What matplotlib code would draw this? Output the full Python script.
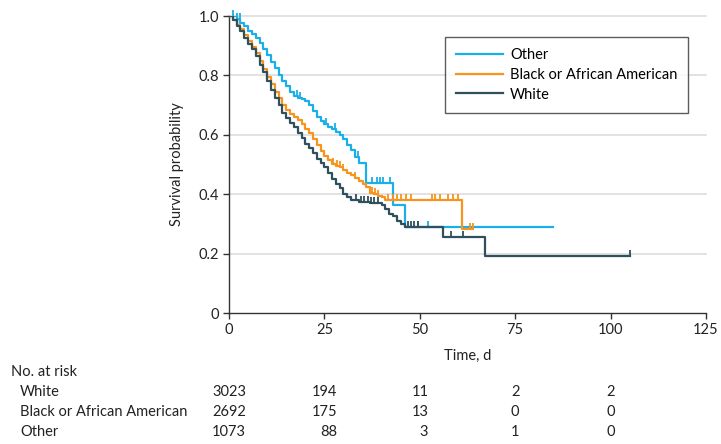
import numpy as np
import matplotlib
matplotlib.use("Agg")
import matplotlib.pyplot as plt
from matplotlib.path import Path
from matplotlib.transforms import blended_transform_factory

plt.rcParams['font.family'] = ['Lato', 'DejaVu Sans']
FS = 10.5

# Kaplan-Meier step points (time in days, survival)
white_t = [0, 1, 2, 3, 4, 5, 6, 7, 8, 9, 10, 11, 12, 13, 14, 15, 16, 17, 18, 19, 20,
           21, 22, 23, 24, 25, 26, 27, 28, 29, 30, 31, 32, 34, 37, 40, 41, 42, 43, 44,
           45, 46, 56, 67, 105]
white_s = [1.0, 0.985, 0.965, 0.95, 0.925, 0.905, 0.89, 0.865, 0.835, 0.81, 0.78, 0.75,
           0.725, 0.70, 0.675, 0.655, 0.64, 0.625, 0.605, 0.59, 0.57, 0.555, 0.54, 0.52,
           0.505, 0.49, 0.47, 0.45, 0.435, 0.42, 0.40, 0.39, 0.38, 0.375, 0.37, 0.365,
           0.35, 0.335, 0.325, 0.31, 0.30, 0.29, 0.257, 0.192, 0.192]
white_cens = [33.4, 34.7, 35.5, 36.4, 37.3, 38.1, 39, 46.9, 47.8, 48.6, 49.5, 58.1, 61.2, 105]

black_t = [0, 1, 2, 3, 4, 5, 6, 7, 8, 9, 10, 11, 12, 13, 14, 15, 16, 17, 18, 19, 20,
           21, 22, 23, 24, 25, 26, 27, 28, 29, 30, 31, 32, 33, 34, 35, 36, 37, 38, 39,
           40, 41, 61, 64]
black_s = [1.0, 0.985, 0.97, 0.955, 0.935, 0.915, 0.895, 0.875, 0.85, 0.82, 0.795, 0.77,
           0.745, 0.725, 0.70, 0.685, 0.67, 0.66, 0.65, 0.635, 0.62, 0.605, 0.585, 0.565,
           0.545, 0.53, 0.515, 0.50, 0.495, 0.49, 0.48, 0.47, 0.465, 0.455, 0.445, 0.435,
           0.425, 0.405, 0.40, 0.395, 0.39, 0.38, 0.283, 0.283]
black_cens = [27.3, 28.3, 29.2, 30, 33, 37.4, 38.3, 39, 41.7, 43, 44, 45, 46.5, 47.7,
              53.2, 54, 55.3, 57.4, 58.7, 60, 63.2, 64]

other_t = [0, 2, 3, 4, 5, 6, 7, 8, 9, 10, 11, 12, 13, 14, 15, 16, 17, 18, 19, 20, 21,
           22, 23, 24, 25, 26, 27, 28, 29, 30, 31, 32, 33, 34, 36, 43, 46, 85]
other_s = [1.0, 0.99, 0.975, 0.965, 0.95, 0.94, 0.925, 0.91, 0.89, 0.87, 0.845, 0.825,
           0.80, 0.78, 0.765, 0.745, 0.73, 0.725, 0.72, 0.715, 0.70, 0.68, 0.66, 0.645,
           0.635, 0.625, 0.62, 0.61, 0.60, 0.585, 0.565, 0.55, 0.525, 0.505, 0.437,
           0.364, 0.29, 0.29]
other_cens = [1.1, 2.1, 2.9, 17.7, 18.6, 23, 25.5, 27.7, 33.9, 37.4, 38.7, 39.6, 40.4,
              42.2, 49.5, 52.2]

# number at risk table
risk_times = [0, 25, 50, 75, 100]
risk_white = [3023, 194, 11, 2, 2]
risk_black = [2692, 175, 13, 0, 0]
risk_other = [1073, 88, 3, 1, 0]

c_other = '#1AAFE6'
c_black = '#F7941D'
c_white = '#2F505C'
txt = '#222222'

fig = plt.figure(figsize=(7.21, 4.44), dpi=100)
ax = fig.add_axes([229 / 721, 1 - 313 / 444, 477 / 721, 297 / 444])

tick_up = Path([(0, 0), (0, 1)], [Path.MOVETO, Path.LINETO])


def km(t, s, cens, color, label):
    ax.step(t, s, where='post', color=color, lw=1.6, label=label, zorder=3)
    idx = np.searchsorted(t, cens, side='right') - 1
    cs = np.array(s)[idx]
    ax.plot(cens, cs, ls='none', marker=tick_up, ms=8, mew=1.3, color=color,
            zorder=3, clip_on=False)


km(other_t, other_s, other_cens, c_other, 'Other')
km(black_t, black_s, black_cens, c_black, 'Black or African American')
km(white_t, white_s, white_cens, c_white, 'White')

ax.set_xlim(0, 125)
ax.set_ylim(0, 1.0)
ax.set_xticks([0, 25, 50, 75, 100, 125])
ax.set_yticks([0, 0.2, 0.4, 0.6, 0.8, 1.0])
ax.set_yticklabels(['0', '0.2', '0.4', '0.6', '0.8', '1.0'])
for y in [0.2, 0.4, 0.6, 0.8, 1.0]:
    ax.axhline(y, color='#DDDDDD', lw=1.2, zorder=1, clip_on=False)
for side in ['top', 'right']:
    ax.spines[side].set_visible(False)
for side in ['left', 'bottom']:
    ax.spines[side].set_color('#333333')
    ax.spines[side].set_linewidth(1.0)
ax.tick_params(direction='out', length=4, width=1.0, color='#333333', labelsize=FS,
               labelcolor=txt, pad=3)
ax.set_xlabel('Time, d', fontsize=FS, color=txt, labelpad=9)
ax.set_ylabel('Survival probability', fontsize=FS, color=txt, labelpad=11)

leg = ax.legend(loc='upper left', bbox_to_anchor=((445 - 229) / 477, (313 - 37) / 297),
                frameon=True, fancybox=False, fontsize=FS, handlelength=3.2,
                borderpad=0.75, labelspacing=0.4, handletextpad=0.5, borderaxespad=0)
leg.get_frame().set_edgecolor('#333333')
leg.get_frame().set_linewidth(1.0)

# number at risk
tr = blended_transform_factory(ax.transData, fig.transFigure)
fig.text(11 / 721, 1 - 372 / 444, 'No. at risk', fontsize=FS, va='center', color=txt)
rows = [('White', risk_white, 392), ('Black or African American', risk_black, 412),
        ('Other', risk_other, 432)]
renderer = fig.canvas.get_renderer()
for label, vals, ypix in rows:
    fig.text(20 / 721, 1 - ypix / 444, label, fontsize=FS, va='center', color=txt)
for j, t in enumerate(risk_times):
    col = [r[1][j] for r in rows]
    widest = max(col, key=lambda v: len(str(v)))
    tmp = ax.text(t, 0.5, str(widest), transform=tr, fontsize=FS, ha='center')
    bb = tmp.get_window_extent(renderer)
    tmp.remove()
    right_fig = fig.transFigure.inverted().transform((bb.x1, 0))[0]
    for label, vals, ypix in rows:
        fig.text(right_fig, 1 - ypix / 444, str(vals[j]), fontsize=FS, ha='right',
                 va='center', color=txt)

fig.savefig('out.png', dpi=100)
